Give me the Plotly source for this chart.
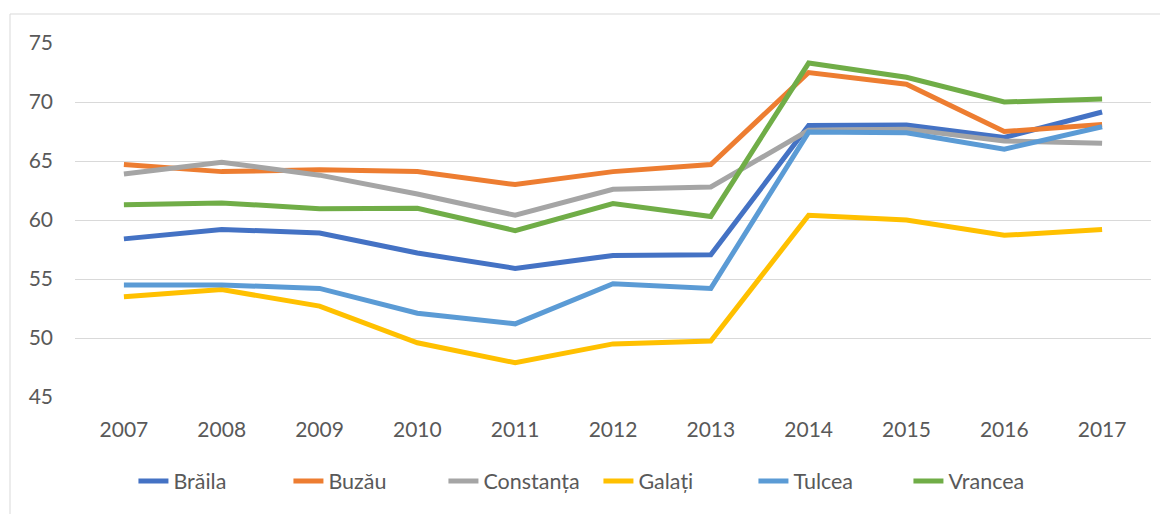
import plotly.graph_objects as go

years = ["2007", "2008", "2009", "2010", "2011", "2012", "2013", "2014", "2015", "2016", "2017"]

braila = [58.4, 59.2, 58.9, 57.2, 55.9, 57.0, 57.05, 68.0, 68.05, 67.0, 69.15]
buzau = [64.7, 64.1, 64.25, 64.1, 63.0, 64.1, 64.7, 72.5, 71.5, 67.5, 68.1]
constanta = [63.9, 64.9, 63.8, 62.2, 60.4, 62.6, 62.8, 67.6, 67.7, 66.7, 66.5]
galati = [53.5, 54.1, 52.7, 49.6, 47.9, 49.5, 49.75, 60.4, 60.0, 58.7, 59.2]
tulcea = [54.5, 54.5, 54.2, 52.1, 51.2, 54.6, 54.2, 67.45, 67.4, 66.0, 67.9]
vrancea = [61.3, 61.45, 60.95, 61.0, 59.1, 61.4, 60.3, 73.3, 72.1, 70.0, 70.25]

series_names = ["Brăila", "Buzău", "Constanța", "Galați", "Tulcea", "Vrancea"]
series_values = [braila, buzau, constanta, galati, tulcea, vrancea]
colors = ["#4472C4", "#ED7D31", "#A5A5A5", "#FFC000", "#5B9BD5", "#70AD47"]

y_ticks = [45, 50, 55, 60, 65, 70, 75]

fig = go.Figure()
for name, vals, col in zip(series_names, series_values, colors):
    fig.add_trace(go.Scatter(
        x=years, y=vals, name=name, mode="lines",
        line=dict(color=col, width=5),
    ))

font_family = "Lato, Carlito, 'Open Sans', sans-serif"
text_color = "#595959"

fig.update_layout(
    width=1160, height=506,
    margin=dict(l=67, r=17, t=35, b=117),
    paper_bgcolor="white", plot_bgcolor="white",
    font=dict(family=font_family, size=21, color=text_color),
    xaxis=dict(
        type="category", showgrid=False, showline=False, zeroline=False,
        ticks="", ticklabelstandoff=18, tickfont=dict(size=21, color=text_color),
        range=[-0.5, len(years) - 0.5],
    ),
    yaxis=dict(
        range=[45, 75], tickvals=y_ticks, showgrid=True,
        gridcolor="#D9D9D9", gridwidth=1.3, zeroline=False, showline=False,
        ticks="", ticklabelstandoff=21, tickfont=dict(size=21, color=text_color),
    ),
    legend=dict(
        orientation="h", xref="container", yref="container",
        x=0.509, xanchor="center", y=0.065, yanchor="middle",
        font=dict(size=21.5, color=text_color),
        entrywidth=110, entrywidthmode="pixels",
        bgcolor="rgba(0,0,0,0)",
    ),
    showlegend=True,
)

fig.add_shape(
    type="rect", xref="paper", yref="paper",
    x0=-0.0604, y0=-0.5, x1=1.05, y1=1.0819,
    line=dict(color="#D9D9D9", width=1), fillcolor="rgba(0,0,0,0)",
    layer="below",
)

fig.write_html("out.html")
